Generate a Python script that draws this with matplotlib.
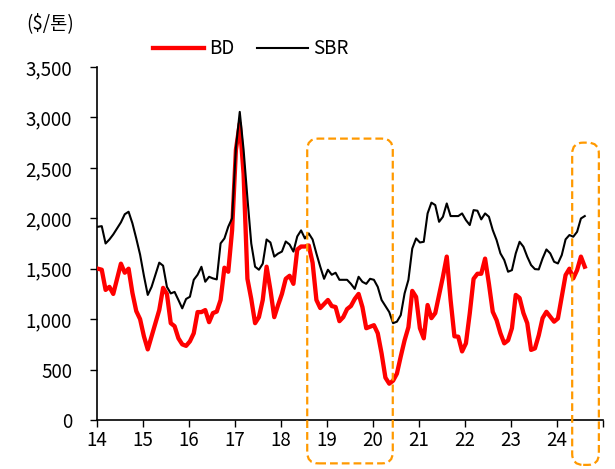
import matplotlib
matplotlib.use("Agg")
import matplotlib.pyplot as plt
from matplotlib.patches import FancyBboxPatch
import numpy as np

plt.rcParams['font.family'] = ['Noto Sans CJK KR', 'DejaVu Sans']

start_year = 14
bd = [1500, 1490, 1290, 1320, 1250, 1400, 1550, 1460, 1500, 1260, 1080, 1000,
      830, 700, 830, 960, 1090, 1310, 1250, 960, 930, 810, 750, 735,
      780, 860, 1070, 1070, 1090, 970, 1060, 1075, 1190, 1510, 1470, 1880,
      2680, 2940, 2440, 1400, 1200, 960, 1020, 1190, 1520, 1290, 1020, 1140,
      1250, 1400, 1430, 1350, 1690, 1720, 1720, 1730, 1560, 1190, 1110, 1150,
      1190, 1130, 1120, 980, 1020, 1100, 1130, 1200, 1250, 1120, 910, 925,
      940, 860, 660, 420, 360, 390, 460, 630, 790, 920, 1280, 1220,
      910, 810, 1140, 1010, 1060, 1240, 1420, 1620, 1190, 830, 826, 680,
      760, 1057, 1400, 1450, 1450, 1600, 1350, 1073, 990, 860, 760, 790,
      910, 1240, 1210, 1060, 960, 695, 710, 840, 1010, 1073, 1024, 975,
      1007, 1222, 1437, 1500, 1404, 1486, 1620, 1520]
sbr = [1916, 1922, 1750, 1790, 1840, 1900, 1960, 2040, 2065, 1950, 1800, 1640,
       1430, 1240, 1320, 1440, 1560, 1530, 1320, 1255, 1270, 1190, 1107, 1200,
       1222, 1390, 1440, 1519, 1371, 1420, 1404, 1394, 1751, 1800, 1916, 2000,
       2700, 3055, 2680, 2200, 1750, 1520, 1490, 1550, 1790, 1760, 1620, 1650,
       1670, 1770, 1740, 1670, 1820, 1880, 1800, 1850, 1790, 1650, 1520, 1400,
       1490, 1440, 1460, 1390, 1390, 1390, 1350, 1300, 1420, 1370, 1350, 1400,
       1390, 1320, 1190, 1130, 1070, 960, 975, 1040, 1255, 1390, 1700, 1800,
       1760, 1767, 2048, 2155, 2131, 1965, 2015, 2147, 2022, 2022, 2022, 2048,
       1982, 1933, 2081, 2075, 1989, 2048, 2015, 1883, 1784, 1652, 1586, 1470,
       1486, 1652, 1767, 1718, 1619, 1536, 1496, 1493, 1602, 1691, 1652, 1569,
       1552, 1635, 1791, 1834, 1817, 1866, 1998, 2022]
x_ticks = list(range(14, 26))
x_labels = [str(t) for t in range(14, 25)] + ['']
y_ticks = [0, 500, 1000, 1500, 2000, 2500, 3000, 3500]
y_labels = ['0', '500', '1,000', '1,500', '2,000', '2,500', '3,000', '3,500']
boxes = [(18.57, 20.43, -430, 2790), (24.33, 24.91, -445, 2750)]

x = start_year + np.arange(len(bd)) / 12.0 + 0.02

fig = plt.figure(figsize=(6.15, 4.69), dpi=100)
ax = fig.add_axes([97/615, 1 - 420/469, (603-97)/615, (420-67)/469])

ax.plot(x, bd, color='#FF0000', lw=3.1, label='BD', solid_joinstyle='round', zorder=3)
ax.plot(x, sbr, color='black', lw=1.5, label='SBR', zorder=4)

ax.set_xlim(14, 25)
ax.set_ylim(0, 3500)
ax.set_xticks(x_ticks)
ax.set_xticklabels(x_labels)
ax.set_yticks(y_ticks)
ax.set_yticklabels(y_labels)
ax.tick_params(axis='both', labelsize=13.5, length=5, width=1, direction='out', color='black')
ax.tick_params(axis='x', pad=2)
ax.tick_params(axis='y', pad=13)
for s in ['top', 'right']:
    ax.spines[s].set_visible(False)
for s in ['left', 'bottom']:
    ax.spines[s].set_linewidth(1.2)

leg = fig.legend(loc='center', bbox_to_anchor=(251/615, 1 - 49/469), ncol=2, frameon=False,
                 fontsize=13.5, handlelength=2.7, columnspacing=1.2, handletextpad=0.3)

fig.text(26/615, 1 - 24/469, '($/톤)', fontsize=13.5, ha='left', va='center')

fig.canvas.draw()
for (x0, x1, y0, y1) in boxes:
    p0 = ax.transData.transform((x0, y0)) / fig.dpi
    p1 = ax.transData.transform((x1, y1)) / fig.dpi
    patch = FancyBboxPatch((p0[0], p0[1]), p1[0] - p0[0], p1[1] - p0[1],
                           boxstyle='round,pad=0,rounding_size=0.11',
                           transform=fig.dpi_scale_trans, fill=False,
                           edgecolor='#FF9900', lw=1.6, linestyle=(0, (3.5, 1.8)),
                           clip_on=False, zorder=5)
    fig.add_artist(patch)

fig.savefig('out.png', dpi=100)
